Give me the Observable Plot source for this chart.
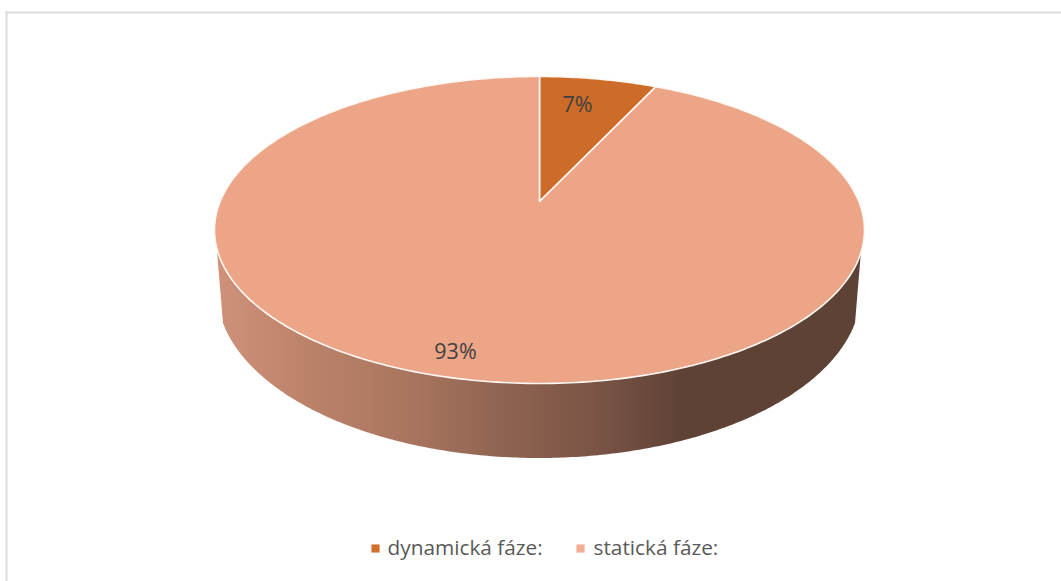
<!DOCTYPE html>
<html>
<head>
<meta charset="utf-8">
<script src="https://cdn.jsdelivr.net/npm/d3@7"></script>
<script src="https://cdn.jsdelivr.net/npm/@observablehq/plot@0.6"></script>
<style>
  html, body { margin: 0; padding: 0; background: #fff; }
  svg { display: block; }
</style>
</head>
<body>
<div id="chart"></div>
<script>
// Share of each phase, in percent
const phases = ["dynamická fáze:", "statická fáze:"];
const shares = [7, 93];
const phaseColors = ["#cd6c28", "#eca587"];
const legendColors = ["#d2702b", "#f2ad92"];

// Pixel layout of the tilted disc
const W = 1061, H = 581;
const centerX = 539, rimTop = 76, rimBottom = 383, apexY = 201, rimRx = 325;
const baseCy = 291, baseRx = 322, baseRy = 167;

// Perspective mapping of a flat unit disc onto the rim ellipse
const tilt = (rimTop + rimBottom - 2 * apexY) / (rimBottom - rimTop);
const pull = rimTop * (1 + tilt) - apexY;
const spread = rimRx * Math.sqrt(1 - tilt * tilt);
function project(turn) {
  const a = turn * 2 * Math.PI;
  const u = Math.sin(a), v = Math.cos(a), w = 1 + tilt * v;
  return { x: centerX + spread * u / w, y: (pull * v + apexY) / w };
}

// One closed outline per phase: hub, then along the rim
let start = 0;
const outlines = phases.map((phase, i) => {
  const from = start, to = start + shares[i] / 100;
  start = to;
  const n = Math.max(2, Math.round(shares[i] * 4));
  const rim = d3.range(n + 1).map((k) => ({ phase, ...project(from + (to - from) * k / n) }));
  const hub = { phase, x: centerX, y: apexY };
  return [hub, ...rim, hub];
});

// Side wall: band between the front of the rim and the front of the base
const rimCy = (rimTop + rimBottom) / 2, rimRy = (rimBottom - rimTop) / 2;
const rimStart = 0.134, baseStart = 0.193;
const wallSteps = d3.range(0, 241).map((k) => {
  const t = k / 240;
  const top = rimStart + t * (Math.PI - 2 * rimStart);
  const low = baseStart + t * (Math.PI - 2 * baseStart);
  return {
    x1: centerX + rimRx * Math.cos(top), y1: rimCy + rimRy * Math.sin(top),
    x2: centerX + baseRx * Math.cos(low), y2: baseCy + baseRy * Math.sin(low)
  };
});

// Wall shading, light on the left and dark from the lower right onward
const shadeOffsets = [0, 0.13, 0.29, 0.44, 0.6, 0.72, 1];
const shadeColors = ["#cf9179", "#bd836b", "#aa7660", "#906451", "#785345", "#5f4236", "#5f4236"];
function wallGradient() {
  const svgNS = "http://www.w3.org/2000/svg";
  const defs = document.createElementNS(svgNS, "defs");
  const grad = document.createElementNS(svgNS, "linearGradient");
  grad.setAttribute("id", "wall-shade");
  shadeOffsets.forEach((o, i) => {
    const stop = document.createElementNS(svgNS, "stop");
    stop.setAttribute("offset", o);
    stop.setAttribute("stop-color", shadeColors[i]);
    grad.appendChild(stop);
  });
  defs.appendChild(grad);
  return defs;
}

// Percent labels and legend entries
const labelRows = [
  { text: `${shares[0]}%`, x: 577, y: 105 },
  { text: `${shares[1]}%`, x: 455, y: 352 }
];
const legendRows = [
  { text: phases[0], color: legendColors[0], x: 375, tx: 387 },
  { text: phases[1], color: legendColors[1], x: 580, tx: 593 }
];
const legendY = 548;
const font = "'Open Sans', sans-serif";

const chart = Plot.plot({
  width: W,
  height: H,
  marginLeft: 6,
  marginTop: 12,
  marginRight: 0,
  marginBottom: 0,
  x: { domain: [0, W], range: [0, W], axis: null },
  y: { domain: [0, H], range: [0, H], axis: null },
  marks: [
    wallGradient,
    Plot.frame({ anchor: "left", stroke: "#dcdcdc", strokeWidth: 2, strokeOpacity: 1 }),
    Plot.frame({ anchor: "top", stroke: "#dcdcdc", strokeWidth: 2, strokeOpacity: 1 }),
    Plot.area(wallSteps, { x1: "x1", y1: "y1", x2: "x2", y2: "y2", fill: "url(#wall-shade)" }),
    ...outlines.map((points, i) =>
      Plot.line(points, {
        x: "x", y: "y",
        fill: phaseColors[i],
        stroke: "#fff8f4",
        strokeWidth: 1.6,
        strokeLinejoin: "round"
      })
    ),
    Plot.text(labelRows, {
      x: "x", y: "y", text: "text",
      fontFamily: font, fontSize: 21.5, fill: "#404040"
    }),
    Plot.dot(legendRows, {
      x: "x", y: () => legendY,
      symbol: "square", r: 4.6, fill: "color", stroke: null
    }),
    Plot.text(legendRows, {
      x: "tx", y: () => legendY, text: "text", textAnchor: "start",
      fontFamily: font, fontSize: 20.8, fill: "#595959"
    })
  ]
});
document.getElementById("chart").appendChild(chart);
</script>
</body>
</html>
